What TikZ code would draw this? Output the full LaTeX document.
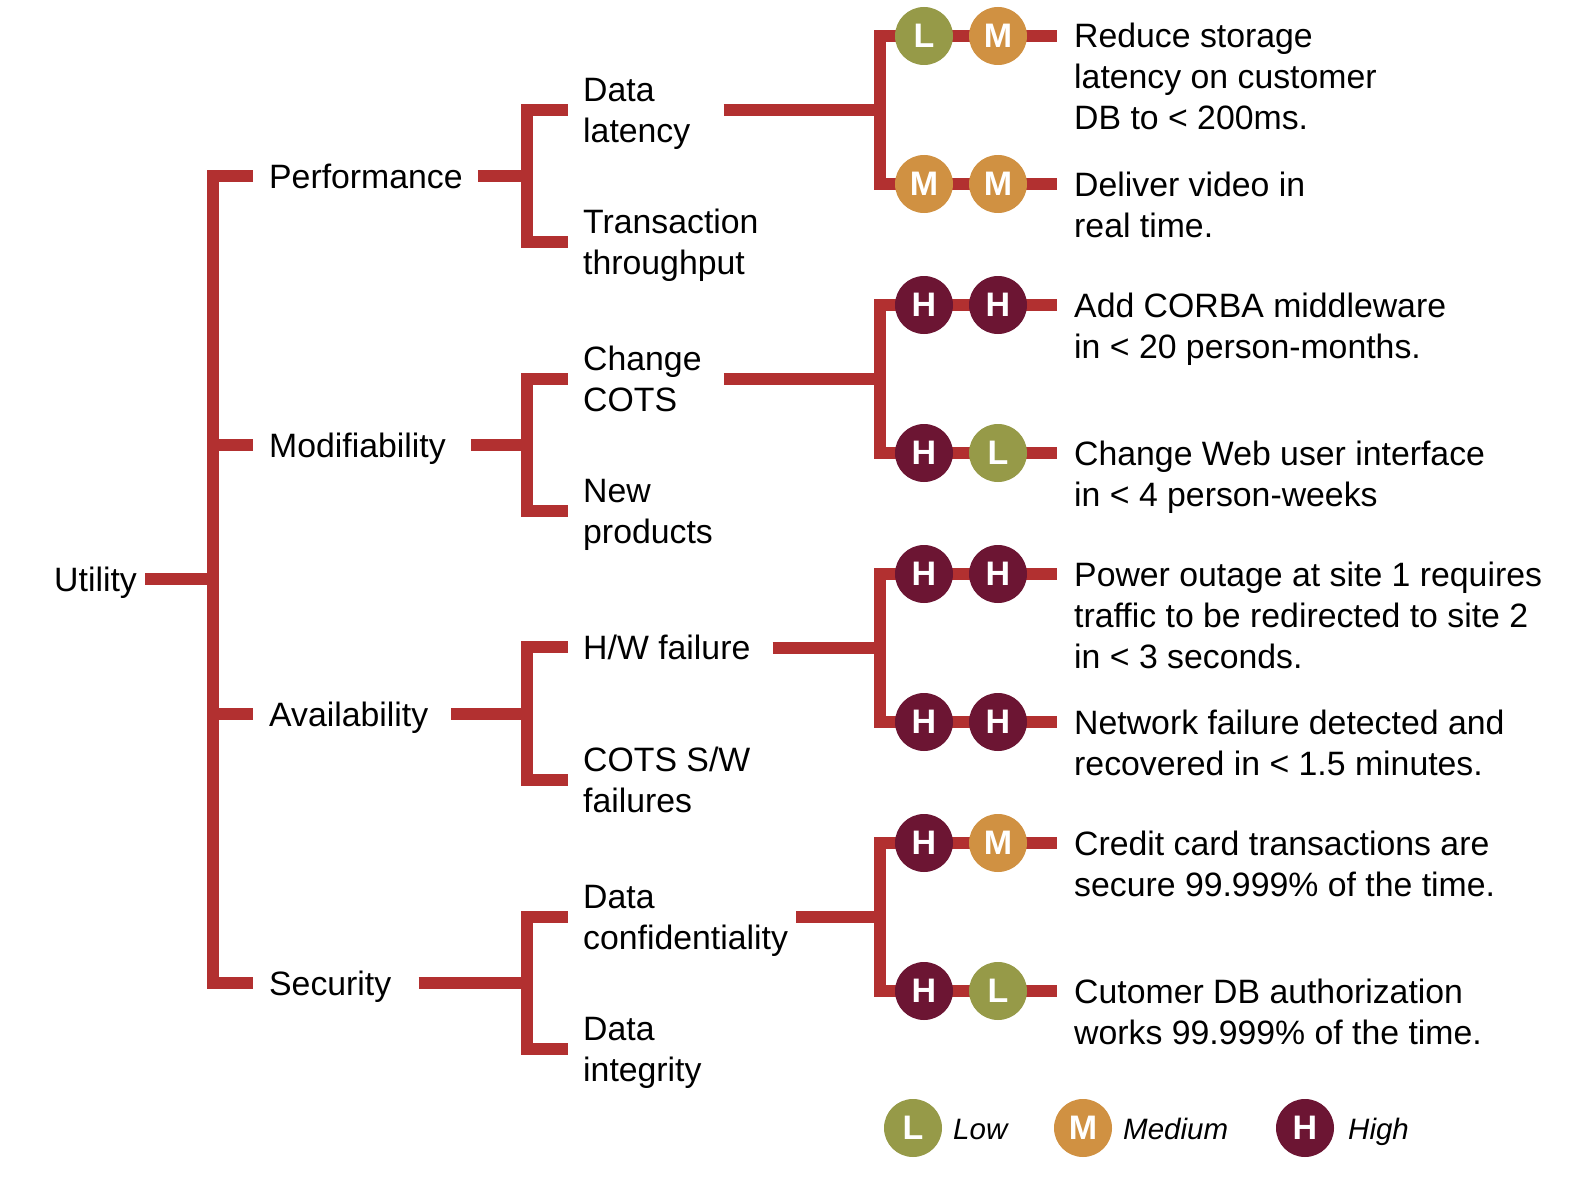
\documentclass[tikz,border=0pt]{standalone}
\usepackage{fontspec}
\setmainfont{Liberation Sans}
\usetikzlibrary{backgrounds}
\definecolor{branchred}{RGB}{178,48,48}
\definecolor{lowgreen}{RGB}{150,154,72}
\definecolor{medorange}{RGB}{208,145,66}
\definecolor{highmaroon}{RGB}{108,21,51}
\tikzset{
  txt/.style={inner sep=0pt,anchor=base west,align=left,font=\fontsize{33.8}{41}\selectfont},
  legtxt/.style={txt,font=\fontsize{29.5}{36}\selectfont\itshape},
  branch/.style={draw=branchred,line width=12.5pt},
  rating/.style={circle,inner sep=0pt,minimum size=58pt,text=white,font=\fontsize{34}{34}\selectfont\bfseries},
  rateL/.style={rating,fill=lowgreen},
  rateM/.style={rating,fill=medorange},
  rateH/.style={rating,fill=highmaroon}
}
\begin{document}
\begin{tikzpicture}[x=1pt,y=-1pt]
\useasboundingbox (0,0) rectangle (1580,1188);
% tree labels (base = last baseline)
\node[txt] (util) at (54,591) {Utility};
\node[txt] (perf) at (269,188) {Performance};
\node[txt] (modi) at (269,457) {Modifiability};
\node[txt] (avai) at (269,726) {Availability};
\node[txt] (secu) at (269,995) {Security};

\node[txt] (dlat) at (583,142.5) {Data\\latency};
\node[txt] (trans) at (583,274.5) {Transaction\\throughput};
\node[txt] (chg) at (583,411.5) {Change\\COTS};
\node[txt] (newp) at (583,543.5) {New\\products};
\node[txt] (hwf) at (583,659) {H/W failure};
\node[txt] (cots) at (583,812.5) {COTS S/W\\failures};
\node[txt] (dcon) at (583,949.5) {Data\\confidentiality};
\node[txt] (dint) at (583,1081.5) {Data\\integrity};

% junctions on the bars
\coordinate (j0) at (213,579);
\coordinate (pj) at (527,176);
\coordinate (mj) at (527,445);
\coordinate (aj) at (527,714);
\coordinate (sj) at (527,983);
\coordinate (dlj) at (880,110);
\coordinate (ccj) at (880,379);
\coordinate (hwj) at (880,648);
\coordinate (dcj) at (880,917);

% ratings (importance, difficulty)
\foreach \i/\y/\p/\q in {1/36/L/M,2/184/M/M,3/305/H/H,4/453/H/L,5/574/H/H,6/722/H/H,7/843/H/M,8/991/H/L}{
  \node[rate\p] (ra\i) at (924,\y) {\p};
  \node[rate\q] (rb\i) at (998,\y) {\q};
}

% scenarios
\node[txt] (sc1) at (1074,130) {Reduce storage\\latency on customer\\DB to < 200ms.};
\node[txt] (sc2) at (1074,237) {Deliver video in\\real time.};
\node[txt] (sc3) at (1074,358) {Add CORBA middleware\\in < 20 person-months.};
\node[txt] (sc4) at (1074,506) {Change Web user interface\\in < 4 person-weeks};
\node[txt] (sc5) at (1074,668) {Power outage at site 1 requires\\traffic to be redirected to site 2\\in < 3 seconds.};
\node[txt] (sc6) at (1074,775) {Network failure detected and\\recovered in < 1.5 minutes.};
\node[txt] (sc7) at (1074,896) {Credit card transactions are\\secure 99.999\% of the time.};
\node[txt] (sc8) at (1074,1044) {Cutomer DB authorization\\works 99.999\% of the time.};

% legend
\node[rateL] (legL) at (913,1128) {L};
\node[legtxt] (legLt) at (953,1139) {Low};
\node[rateM] (legM) at (1083,1128) {M};
\node[legtxt] (legMt) at (1123,1139) {Medium};
\node[rateH] (legH) at (1305,1128) {H};
\node[legtxt] (legHt) at (1348,1139) {High};

\begin{scope}[on background layer]
\fill[white] (0,0) rectangle (1580,1188);
\draw[branch,shorten <=8pt] (util.east |- j0) -- (j0);
\foreach \n/\j in {perf/pj,modi/mj,avai/aj,secu/sj}
  \draw[branch,shorten >=16pt] (j0) |- (\n.west |- \j);
\foreach \n/\j/\g in {perf/pj/15pt,modi/mj/25pt,avai/aj/23pt,secu/sj/27pt}
  \draw[branch,shorten <=\g] (\n.east |- \j) -- (\j);
\foreach \j/\a/\b in {pj/dlat/trans,mj/chg/newp,sj/dcon/dint}{
  \draw[branch] (\j) |- ([xshift=-15pt,yshift=32.5pt]\a.base west);
  \draw[branch] (\j) |- ([xshift=-15pt,yshift=32.5pt]\b.base west);
}
\draw[branch] (aj) |- ([xshift=-15pt,yshift=12pt]hwf.base west);
\draw[branch] (aj) |- ([xshift=-15pt,yshift=32.5pt]cots.base west);
\foreach \n/\j/\g in {dlat/dlj/33pt,chg/ccj/22pt,hwf/hwj/22pt,dcon/dcj/8pt}
  \draw[branch,shorten <=\g] (\n.east |- \j) -- (\j);
\foreach \j/\a/\b in {dlj/1/2,ccj/3/4,hwj/5/6,dcj/7/8}{
  \draw[branch] (\j) |- (ra\a.center);
  \draw[branch] (\j) |- (ra\b.center);
}
\foreach \i in {1,...,8}
  \draw[branch,shorten >=17pt] (ra\i.center) -- (rb\i.center) -- (rb\i.center -| sc\i.west);
\end{scope}
\end{tikzpicture}
\end{document}
